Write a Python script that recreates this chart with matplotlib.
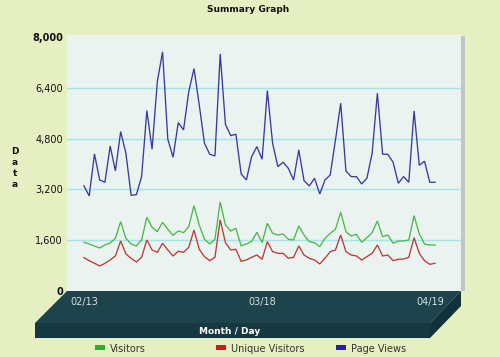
import matplotlib.pyplot as plt
import numpy as np
import pandas as pd
from matplotlib.patches import Polygon, Rectangle

# daily values, 2024-02-13 .. 2024-04-20
page_views = [3307, 2992, 4315, 3496, 3424, 4567, 3780, 5018, 4337, 3014,
              3034, 3601, 5680, 4463, 6593, 7528, 4778, 4211, 5302, 5071,
              6279, 7003, 5859, 4652, 4305, 4252, 7465, 5250, 4893, 4935,
              3685, 3496, 4231, 4546, 4147, 6310, 4652, 3916, 4053, 3864,
              3496, 4441, 3475, 3307, 3549, 3055, 3496, 3654, 4756, 5912,
              3780, 3601, 3601, 3370, 3549, 4337, 6226, 4305, 4305, 4053,
              3392, 3601, 3424, 5670, 3959, 4085, 3424, 3424]
visitors = [1533, 1480, 1417, 1354, 1449, 1512, 1659, 2184, 1659, 1480,
            1417, 1606, 2321, 2006, 1869, 2163, 1943, 1754, 1890, 1838,
            2027, 2688, 2079, 1628, 1480, 1628, 2804, 2079, 1890, 1974,
            1417, 1480, 1560, 1848, 1522, 2131, 1816, 1764, 1796, 1628,
            1607, 2048, 1764, 1554, 1522, 1396, 1659, 1816, 1943, 2478,
            1869, 1733, 1785, 1533, 1680, 1838, 2205, 1712, 1764, 1502,
            1575, 1575, 1607, 2373, 1796, 1480, 1449, 1449]
unique_visitors = [1050, 955, 872, 788, 872, 977, 1103, 1575, 1166, 1029,
                   914, 1061, 1607, 1292, 1218, 1502, 1292, 1103, 1250, 1218,
                   1376, 1922, 1313, 1082, 955, 1061, 2237, 1523, 1292, 1313,
                   935, 977, 1060, 1134, 997, 1554, 1239, 1186, 1186, 1029,
                   1061, 1418, 1134, 1029, 977, 851, 1029, 1239, 1292, 1764,
                   1239, 1134, 1103, 977, 1082, 1186, 1449, 1103, 1134, 956,
                   997, 1008, 1061, 1680, 1186, 956, 840, 872]
dates = pd.date_range("2024-02-13", periods=len(page_views), freq="D")
tick_dates = ["02/13", "03/18", "04/19"]
y_ticks = [0, 1600, 3200, 4800, 6400, 8000]

series_names = ["Visitors", "Unique Visitors", "Page Views"]
line_colors = ["#4cb84c", "#b83c3c", "#3a3a9c"]
key_colors = ["#33aa33", "#bb2222", "#22229a"]

W, H = 500, 357
BG = "#e5efc1"


def fx(x):
    return x / W


def fy(y):
    return 1 - y / H


fig = plt.figure(figsize=(5, 3.57), dpi=100, facecolor=BG)

# 3d floor and right edge, drawn under the axes
floor_top = [(67, 291), (461, 291), (430, 323), (35, 323)]
floor_front = [(35, 323), (430, 323), (430, 338), (35, 338)]
floor_side = [(461, 291), (461, 306), (430, 338), (430, 323)]
for pts, col in [(floor_top, "#1d444c"), (floor_front, "#163840"),
                 (floor_side, "#12323a")]:
    fig.patches.append(Polygon([(fx(a), fy(b)) for a, b in pts], closed=True,
                               transform=fig.transFigure, facecolor=col,
                               edgecolor="none", zorder=-2))
fig.patches.append(Rectangle((fx(461), fy(291)), 4 / W, 255 / H,
                             transform=fig.transFigure, facecolor="#c2c6c0",
                             edgecolor="none", zorder=-2))

ax = fig.add_axes([fx(67), fy(291), (461 - 67) / W, (291 - 35) / H])
ax.set_facecolor("#eaf3ef")
for s in ax.spines.values():
    s.set_visible(False)

x = np.arange(len(dates))
for vals, col in zip([visitors, unique_visitors, page_views], line_colors):
    ax.plot(x, vals, color=col, lw=0.95, solid_joinstyle="miter")

ax.set_xlim(-3.24, 71.96)
ax.set_ylim(0, 8060)

labels = dates.strftime("%m/%d")
tick_pos = [list(labels).index(t) for t in tick_dates]
ax.set_xticks(tick_pos)
ax.set_xticklabels(tick_dates, color="#d8e0e0", fontsize=7)
ax.tick_params(axis="x", length=0, pad=4)

ax.set_yticks(y_ticks)
ax.set_yticklabels([f"{v:,}" for v in y_ticks], fontsize=7, color="#111111")
for lbl, v in zip(ax.get_yticklabels(), y_ticks):
    if v in (0, 8000):
        lbl.set_fontweight("bold")
ax.tick_params(axis="y", length=0, pad=3)
for v in y_ticks[1:-1]:
    ax.axhline(v, color="#9fe6ee", lw=1, zorder=0)

fig.text(fx(248), fy(9), "Summary Graph", ha="center", va="center",
         fontsize=6.5, fontweight="bold", color="#111111")
fig.text(fx(15), fy(168), "D\na\nt\na", ha="center", va="center",
         fontsize=6.5, fontweight="bold", color="#111111", linespacing=1.25)
fig.text(fx(230), fy(331), "Month / Day", ha="center", va="center",
         fontsize=6.5, fontweight="bold", color="white")

# legend keys
key_x = [95, 216, 336]
for kx, name, col in zip(key_x, series_names, key_colors):
    fig.patches.append(Rectangle((fx(kx), fy(350)), 10 / W, 5 / H,
                                 transform=fig.transFigure, facecolor=col,
                                 edgecolor="none"))
    fig.text(fx(kx + 15), fy(348.5), name, ha="left", va="center",
             fontsize=7, color="#333333")

fig.savefig("out.png", dpi=100, facecolor=BG)
